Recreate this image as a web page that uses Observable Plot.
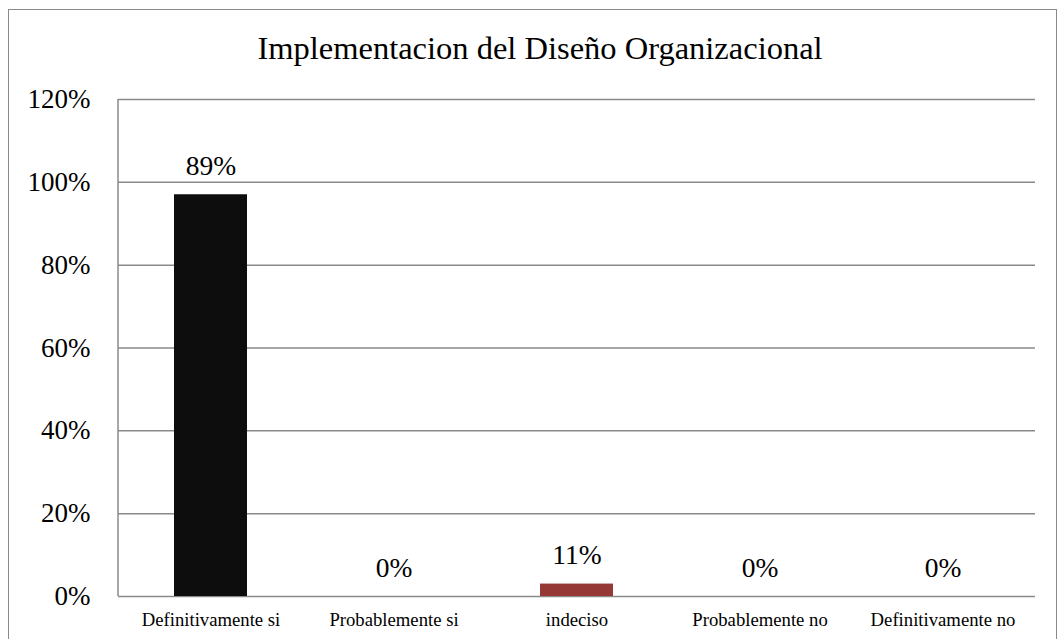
<!DOCTYPE html>
<html>
<head>
<meta charset="utf-8">
<script src="https://cdn.jsdelivr.net/npm/d3@7"></script>
<script src="https://cdn.jsdelivr.net/npm/@observablehq/plot@0.6"></script>
<style>
  html, body { margin: 0; padding: 0; background: #fff; }
  #wrap { position: relative; width: 1059px; height: 639px; overflow: hidden; }
  #border { position: absolute; left: 8px; top: 9px; width: 1049px; height: 700px; border: 1.5px solid #8a8a8a; box-sizing: border-box; pointer-events: none; }
  #title { position: absolute; left: 0; width: 1080px; top: 32px; text-align: center; font-family: "Liberation Serif", "Times New Roman", serif; font-size: 32.5px; color: #000; line-height: 1; }
  #chart { position: absolute; left: 0; top: 0; }
</style>
</head>
<body>
<div id="wrap">
  <div id="chart"></div>
  <div id="title">Implementacion del Diseño Organizacional</div>
  <div id="border"></div>
</div>
<script>
const titleText = "Implementacion del Diseño Organizacional";
const categories = ["Definitivamente si", "Probablemente si", "indeciso", "Probablemente no", "Definitivamente no"];
const barHeights = [97, 0, 3, 0, 0];
const valueLabels = ["89%", "0%", "11%", "0%", "0%"];
const barColors = ["#0d0d0d", "#0d0d0d", "#953735", "#0d0d0d", "#0d0d0d"];
const yTicks = [0, 20, 40, 60, 80, 100, 120];

const data = categories.map((c, i) => ({cat: c, value: barHeights[i], label: valueLabels[i], color: barColors[i]}));

const leftLine = (index, scales, values, dimensions) => {
  const ns = "http://www.w3.org/2000/svg";
  const l = document.createElementNS(ns, "line");
  const x = dimensions.marginLeft;
  l.setAttribute("x1", x); l.setAttribute("x2", x);
  l.setAttribute("y1", dimensions.marginTop);
  l.setAttribute("y2", dimensions.height - dimensions.marginBottom);
  l.setAttribute("stroke", "#8a8a8a");
  l.setAttribute("stroke-width", 1.5);
  return l;
};

const font = '"Liberation Serif", "Times New Roman", serif';

const chart = Plot.plot({
  width: 1059,
  height: 639,
  marginLeft: 118,
  marginRight: 24,
  marginTop: 99,
  marginBottom: 43,
  style: {fontFamily: font, background: "transparent", color: "#000", overflow: "visible"},
  x: {domain: categories, paddingInner: 0.6, paddingOuter: 0.3, label: null},
  y: {domain: [0, 120], label: null},
  marks: [
    Plot.ruleY(yTicks, {stroke: "#8a8a8a", strokeWidth: 1.5, strokeOpacity: 1}),
    leftLine,
    Plot.barY(data, {x: "cat", y: "value", fill: "color"}),
    Plot.text(data, {x: "cat", y: "value", text: "label", dy: -20, lineAnchor: "bottom", fontSize: 27.5, fill: "#000"}),
    Plot.axisY({ticks: yTicks, tickFormat: d => d + "%", tickSize: 0, tickPadding: 28, fontSize: 27, label: null, fill: "#000"}),
    Plot.axisX({tickSize: 0, tickPadding: 16, fontSize: 18.7, label: null, fill: "#000"})
  ]
});
document.getElementById("chart").appendChild(chart);
</script>
</body>
</html>
